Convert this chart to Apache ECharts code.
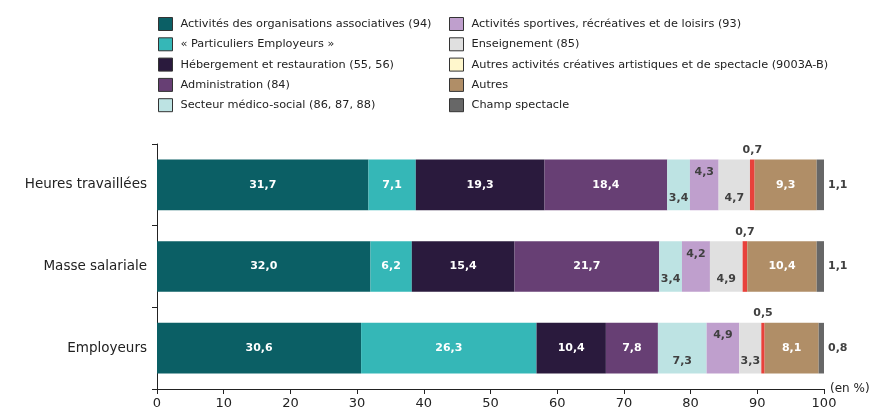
<!DOCTYPE html>
<html>
<head>
<meta charset="utf-8">
<script src="https://cdn.jsdelivr.net/npm/echarts@6/dist/echarts.min.js"></script>
<style>
  html, body { margin: 0; padding: 0; background: #fff; }
  #main { width: 875px; height: 414px; }
</style>
</head>
<body>
<div id="main"></div>
<script>
// catégories (de haut en bas)
var categories = ['Heures travaillées', 'Masse salariale', 'Employeurs'];

// séries, dans l'ordre d'empilement
var seriesNames = [
  'Activités des organisations associatives (94)',
  '« Particuliers Employeurs »',
  'Hébergement et restauration (55, 56)',
  'Administration (84)',
  'Secteur médico-social (86, 87, 88)',
  'Activités sportives, récréatives et de loisirs (93)',
  'Enseignement (85)',
  'Autres activités créatives artistiques et de spectacle (9003A-B)',
  'Autres',
  'Champ spectacle'
];

var associatives = [31.7, 32.0, 30.6];
var particuliers = [7.1, 6.2, 26.3];
var hebergement = [19.3, 15.4, 10.4];
var administration = [18.4, 21.7, 7.8];
var medicoSocial = [3.4, 3.4, 7.3];
var sportives = [4.3, 4.2, 4.9];
var enseignement = [4.7, 4.9, 3.3];
var creatives = [0.7, 0.7, 0.5];
var autres = [9.3, 10.4, 8.1];
var champSpectacle = [1.1, 1.1, 0.8];

var xTicks = [0, 10, 20, 30, 40, 50, 60, 70, 80, 90, 100];

var values = [associatives, particuliers, hebergement, administration, medicoSocial,
  sportives, enseignement, creatives, autres, champSpectacle];

var colors = ['#0b5f65', '#35b7b7', '#2a1a3d', '#673f74', '#bde3e3',
  '#bf9fcd', '#e0e0e0', '#e8413b', '#b08e67', '#676767'];
var legendColors = colors.slice();
legendColors[7] = '#fff7cc';

// position des étiquettes par série
var labelPos = ['inside', 'inside', 'inside', 'inside', 'insideBottom',
  'insideTop', 'insideBottom', 'top', 'inside', 'right'];
var labelWhite = [true, true, true, true, false, false, false, false, true, false];

var fontFam = '"DejaVu Sans", Verdana, sans-serif';

function fmt(v) { return v.toFixed(1).replace('.', ','); }

var chart = echarts.init(document.getElementById('main'));

var series = seriesNames.map(function (name, i) {
  return {
    name: name,
    type: 'bar',
    stack: 'total',
    barWidth: '62%',
    itemStyle: { color: colors[i] },
    label: {
      show: true,
      position: labelPos[i],
      distance: labelPos[i] === 'inside' ? 0 : (labelPos[i] === 'top' || labelPos[i] === 'right' ? 4 : 7),
      color: labelWhite[i] ? '#ffffff' : '#404040',
      fontWeight: 'bold',
      fontSize: 11,
      fontFamily: fontFam,
      formatter: function (p) { return fmt(p.value); }
    },
    emphasis: { disabled: true },
    data: values[i]
  };
});

function legendData(from, to) {
  var out = [];
  for (var i = from; i < to; i++) {
    out.push({ name: seriesNames[i], itemStyle: { color: legendColors[i], borderColor: '#333', borderWidth: 1 } });
  }
  return out;
}

var legendCommon = {
  orient: 'vertical',
  top: 17,
  padding: 0,
  itemWidth: 14,
  itemHeight: 13,
  itemGap: 6.3,
  icon: 'rect',
  selectedMode: false,
  textStyle: { fontSize: 11.3, color: '#222', fontFamily: fontFam, padding: [0, 0, 0, 3] }
};

var option = {
  animation: false,
  backgroundColor: '#fff',
  legend: [
    Object.assign({}, legendCommon, { left: 158, data: legendData(0, 5) }),
    Object.assign({}, legendCommon, { left: 449, data: legendData(5, 10) })
  ],
  grid: { left: 157, right: 51, top: 144, bottom: 25, containLabel: false },
  xAxis: {
    type: 'value',
    min: 0,
    max: 100,
    interval: 10,
    name: '(en %)',
    nameLocation: 'end',
    nameGap: 6,
    nameTextStyle: { fontSize: 12, color: '#222', fontFamily: fontFam, verticalAlign: 'middle', padding: [-22, 0, 0, 0] },
    axisLine: { show: true, lineStyle: { color: '#222', width: 1 } },
    axisTick: { show: true, length: 5, lineStyle: { color: '#222' } },
    splitLine: { show: false },
    axisLabel: {
      fontSize: 13, color: '#222', fontFamily: fontFam, margin: 8,
      formatter: function (v) { return xTicks.indexOf(v) >= 0 ? String(v) : ''; }
    }
  },
  yAxis: {
    type: 'category',
    inverse: true,
    data: categories,
    axisLine: { show: true, lineStyle: { color: '#222', width: 1 } },
    axisTick: { show: true, length: 5, inside: false, lineStyle: { color: '#222' } },
    axisLabel: { fontSize: 13.5, color: '#222', fontFamily: fontFam, margin: 10 }
  },
  series: series
};

chart.setOption(option);
</script>
</body>
</html>
